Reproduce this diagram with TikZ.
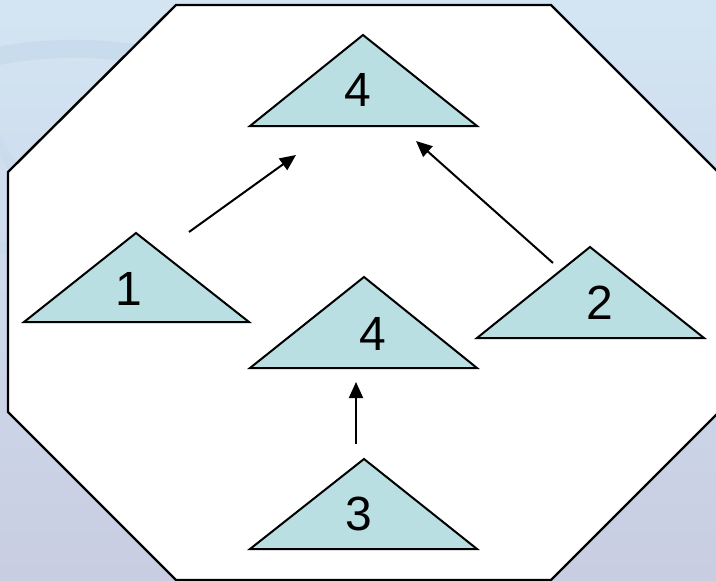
\documentclass[tikz,border=0pt]{standalone}
\usepackage{fontspec}
\setmainfont{Liberation Sans}
\usetikzlibrary{arrows.meta}
\definecolor{bgtop}{HTML}{D3E5F3}
\definecolor{bgbot}{HTML}{C8CDE2}
\definecolor{swirl}{HTML}{C3D8EA}
\definecolor{trifill}{HTML}{B9DFE2}
\tikzset{
  tri/.style={draw=black, line width=2pt, fill=trifill, line join=miter},
  lbl/.style={font=\fontsize{48}{48}\selectfont, inner sep=0pt},
  conn/.style={draw=black, line width=2pt, -{Triangle[length=16pt,width=14pt]}},
  octo/.style={draw=black, line width=2.4pt, fill=white}
}
\begin{document}
\begin{tikzpicture}[x=1pt,y=-1pt]
\useasboundingbox (0,0) rectangle (716,581);
\shade[top color=bgtop, bottom color=bgbot] (0,0) rectangle (716,581);
% faint background swirls
\draw[swirl, line width=18pt, opacity=0.6] (-20,60) .. controls (100,30) and (260,60) .. (360,160);
\draw[swirl, line width=12pt, opacity=0.5] (-20,250) .. controls (60,240) and (140,250) .. (200,280);
\draw[swirl, line width=10pt, opacity=0.4] (-10,130) .. controls (40,200) and (60,300) .. (40,420);
% octagon
\path[octo] (176,5) -- (551,5) -- (718,172) -- (718,413) -- (551,580) -- (176,580) -- (8,412) -- (8,172) -- cycle;
% triangles
\path[tri] (250,126) -- (363,35) -- (477,126) -- cycle;
\path[tri] (24,322) -- (136,233) -- (249,322) -- cycle;
\path[tri] (477,338) -- (590,247) -- (704,338) -- cycle;
\path[tri] (250,368) -- (364,277) -- (477,368) -- cycle;
\path[tri] (250,549) -- (364,459) -- (477,549) -- cycle;
% labels
\node[lbl] (ttop) at (358,90) {4};
\node[lbl] (tone) at (129,289) {1};
\node[lbl] (ttwo) at (600,303) {2};
\node[lbl] (tmid) at (373,334) {4};
\node[lbl] (tthree) at (359,514) {3};
% connector ends
\coordinate (a1s) at (189,232);
\coordinate (a1e) at (296,155);
\coordinate (a2s) at (553,263);
\coordinate (a2e) at (416,141);
\coordinate (a3s) at (356,444);
\coordinate (a3e) at (356,382);
\draw[conn] (a1s) -- (a1e);
\draw[conn] (a2s) -- (a2e);
\draw[conn] (a3s) -- (a3e);
\end{tikzpicture}
\end{document}
